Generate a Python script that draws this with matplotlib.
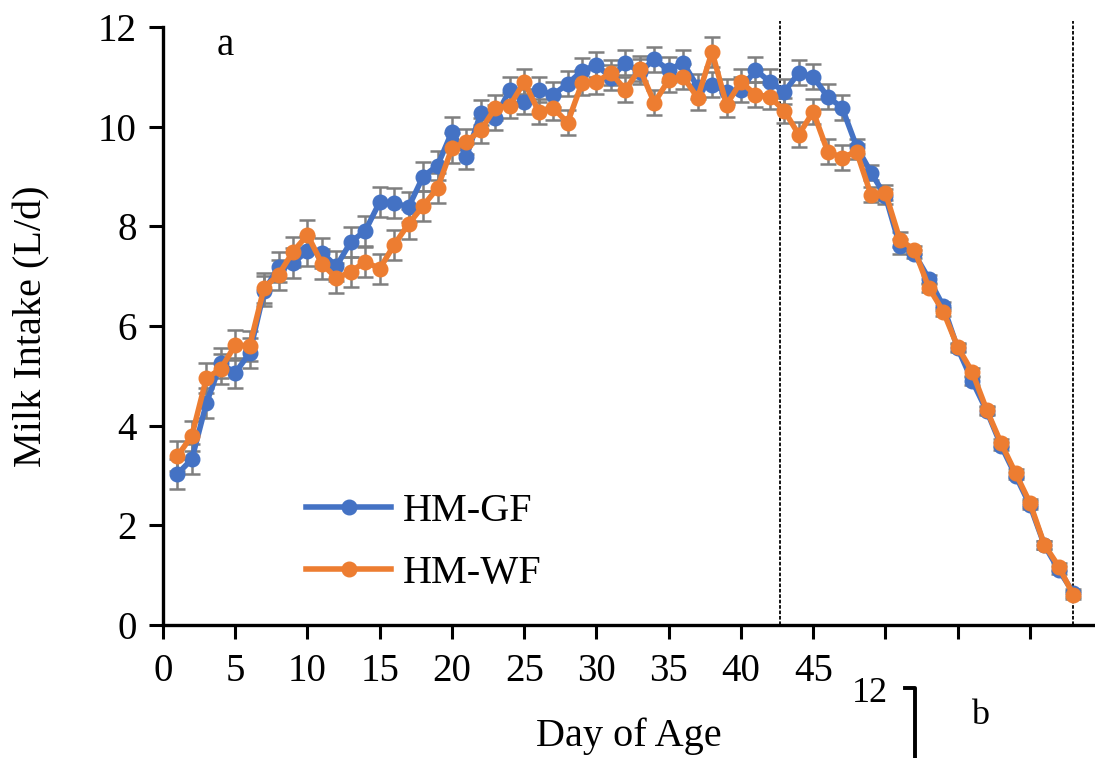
import matplotlib
matplotlib.use("Agg")
import matplotlib.pyplot as plt
from matplotlib.lines import Line2D

plt.rcParams['font.family'] = ['Liberation Serif', 'DejaVu Serif']

days = list(range(1, 64))

hm_gf = [3.03, 3.33, 4.45, 5.25, 5.06, 5.46, 6.70, 7.19, 7.27, 7.50,
         7.47, 7.20, 7.69, 7.91, 8.49, 8.47, 8.39, 9.00, 9.22, 9.90,
         9.40, 10.28, 10.18, 10.74, 10.50, 10.74, 10.64, 10.86, 11.12, 11.24,
         10.98, 11.28, 11.10, 11.35, 11.14, 11.28, 10.80, 10.84, 10.70, 10.74,
         11.14, 10.90, 10.70, 11.08, 11.00, 10.60, 10.38, 9.60, 9.08, 8.60,
         7.60, 7.45, 6.95, 6.40, 5.55, 4.90, 4.30, 3.60, 3.00, 2.40,
         1.60, 1.10, 0.65]
hm_wf = [3.39, 3.80, 4.95, 5.14, 5.62, 5.60, 6.77, 7.03, 7.49, 7.83,
         7.25, 6.96, 7.09, 7.29, 7.15, 7.63, 8.05, 8.41, 8.77, 9.57,
         9.70, 9.93, 10.38, 10.42, 10.90, 10.30, 10.38, 10.08, 10.88, 10.90,
         11.08, 10.74, 11.16, 10.48, 10.94, 11.00, 10.58, 11.50, 10.44, 10.90,
         10.64, 10.60, 10.32, 9.84, 10.30, 9.50, 9.38, 9.50, 8.63, 8.67,
         7.73, 7.53, 6.77, 6.29, 5.58, 5.08, 4.32, 3.65, 3.05, 2.45,
         1.61, 1.17, 0.60]
err_gf = [0.30, 0.30, 0.30, 0.30, 0.30, 0.30, 0.30, 0.30, 0.30, 0.30,
          0.30, 0.30, 0.30, 0.30, 0.30, 0.30, 0.30, 0.30, 0.30, 0.30,
          0.25, 0.25, 0.25, 0.25, 0.25, 0.25, 0.25, 0.25, 0.25, 0.25,
          0.25, 0.25, 0.25, 0.25, 0.25, 0.25, 0.25, 0.25, 0.25, 0.25,
          0.25, 0.25, 0.25, 0.25, 0.25, 0.25, 0.25, 0.15, 0.15, 0.15,
          0.15, 0.08, 0.08, 0.08, 0.08, 0.08, 0.08, 0.08, 0.08, 0.08,
          0.08, 0.08, 0.08]
err_wf = [0.30, 0.30, 0.30, 0.30, 0.30, 0.30, 0.30, 0.30, 0.30, 0.30,
          0.30, 0.30, 0.30, 0.30, 0.30, 0.30, 0.30, 0.30, 0.30, 0.30,
          0.25, 0.25, 0.25, 0.25, 0.25, 0.25, 0.25, 0.25, 0.25, 0.25,
          0.25, 0.25, 0.25, 0.25, 0.25, 0.25, 0.25, 0.30, 0.25, 0.25,
          0.25, 0.25, 0.25, 0.25, 0.25, 0.25, 0.25, 0.15, 0.15, 0.15,
          0.15, 0.08, 0.08, 0.08, 0.08, 0.08, 0.08, 0.08, 0.08, 0.08,
          0.08, 0.08, 0.08]

x_ticks = [0, 5, 10, 15, 20, 25, 30, 35, 40, 45, 50, 55, 60]
x_tick_labels = ['0', '5', '10', '15', '20', '25', '30', '35', '40', '45', '', '', '']
y_ticks = [0, 2, 4, 6, 8, 10, 12]
phase_lines = [42.7, 62.95]

BLUE = '#4472C4'
ORANGE = '#ED7D31'
GREY = '#7F7F7F'

fig = plt.figure(figsize=(10.95, 7.58), dpi=100)
ax = fig.add_axes([163 / 1095, (758 - 625) / 758, (1095 - 163) / 1095, 598 / 758])

for y, e in [(hm_gf, err_gf), (hm_wf, err_wf)]:
    ax.errorbar(days, y, yerr=e, fmt='none', ecolor=GREY, elinewidth=1.8,
                capsize=5.5, capthick=1.8, zorder=2)
for y, c, lab in [(hm_gf, BLUE, 'HM-GF'), (hm_wf, ORANGE, 'HM-WF')]:
    ax.plot(days, y, color=c, lw=4, marker='o', ms=10.5, label=lab, zorder=3)

for xv in phase_lines:
    ax.axvline(xv, color='black', lw=1.3, ls=(0, (2, 1)), zorder=1, ymax=1.01, clip_on=False)

ax.set_xlim(0, 64.5)
ax.set_ylim(0, 12)
ax.set_xticks(x_ticks)
ax.set_xticklabels(x_tick_labels)
ax.set_yticks(y_ticks)
ax.tick_params(axis='both', direction='out', length=10, width=2.2, labelsize=28, colors='black')
ax.tick_params(axis='x', pad=10)
ax.tick_params(axis='y', pad=9)
for s in ['top', 'right']:
    ax.spines[s].set_visible(False)
for s in ['left', 'bottom']:
    ax.spines[s].set_linewidth(2.4)

ax.set_xlabel('Day of Age', fontsize=29, labelpad=20)
ax.set_ylabel('Milk Intake (L/d)', fontsize=29, labelpad=34)
ax.text(4.3, 11.62, 'a', fontsize=28, ha='center', va='center')

leg = ax.legend(loc='lower left', bbox_to_anchor=(0.115, -0.005), frameon=False,
                fontsize=29, handlelength=2.1, handletextpad=0.3, labelspacing=0.6)

fig.text(870 / 1095, 1 - 694 / 758, '12', fontsize=26, ha='center', va='center')
fig.text(980 / 1095, 1 - 715 / 758, 'b', fontsize=26, ha='center', va='center')
fig.add_artist(Line2D([905 / 1095, 915 / 1095, 915 / 1095],
                      [1 - 688 / 758, 1 - 688 / 758, 0], color='black', lw=2.8,
                      transform=fig.transFigure))

fig.savefig('out.png', dpi=100)
